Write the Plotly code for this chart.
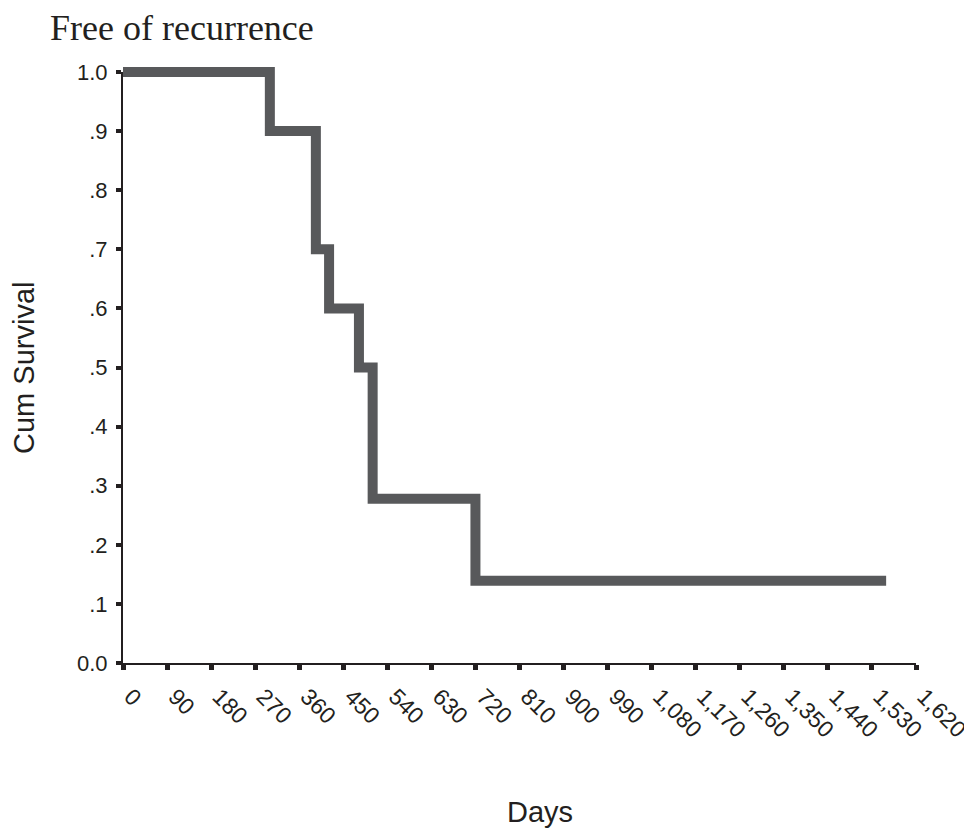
import plotly.graph_objects as go

# Kaplan-Meier step values
days = [0, 300, 394, 421, 482, 510, 720, 1559]
cum_survival = [1.0, 0.9, 0.7, 0.6, 0.5, 0.278, 0.139, 0.139]

x_ticks = list(range(0, 1621, 90))
x_tick_labels = [f"{v:,}" for v in x_ticks]
y_ticks = [0.0, 0.1, 0.2, 0.3, 0.4, 0.5, 0.6, 0.7, 0.8, 0.9, 1.0]
y_tick_labels = ["0.0", ".1", ".2", ".3", ".4", ".5", ".6", ".7", ".8", ".9", "1.0"]

OFF = 8  # page body margin
W, H = 972 - OFF, 829 - OFF
x0_px, x1_px = 123 - OFF, 915.7 - OFF     # x=0 and x=1620
y0_px, y1_px = 663 - OFF, 72 - OFF        # y=0 and y=1.0
mt = y1_px - 12
ml, mr, mb = x0_px, W - x1_px, H - y0_px
plot_h = H - mt - mb
plot_w = W - ml - mr
axis_top_frac = (y0_px - y1_px) / plot_h

ink = "#231f20"
fig = go.Figure()
fig.add_trace(go.Scatter(
    x=days, y=cum_survival, mode="lines", line_shape="hv",
    line=dict(color="#58595b", width=10),
    xaxis="x", yaxis="y2", hoverinfo="skip", showlegend=False,
))
# invisible trace so the visible axis subplot is drawn
fig.add_trace(go.Scatter(
    x=days[:1], y=cum_survival[:1], mode="markers", marker=dict(opacity=0),
    xaxis="x", yaxis="y", hoverinfo="skip", showlegend=False,
))

font_family = "Liberation Sans, Arial, sans-serif"
fig.update_layout(
    width=W, height=H,
    margin=dict(l=ml, r=mr, t=mt, b=mb, autoexpand=False),
    paper_bgcolor="white", plot_bgcolor="white",
    showlegend=False,
    xaxis=dict(
        range=[0, 1620], domain=[0, 1], anchor="y",
        tickmode="array", tickvals=x_ticks, ticktext=x_tick_labels,
        tickangle=45, ticks="outside", ticklen=5, tickwidth=5, tickcolor=ink,
        ticklabelshift=8, ticklabelstandoff=4,
        showline=True, linewidth=2, linecolor=ink,
        showgrid=False, zeroline=False,
        tickfont=dict(family=font_family, size=23, color=ink),
    ),
    yaxis=dict(
        range=[0, 1], domain=[0, axis_top_frac], anchor="x",
        tickmode="array", tickvals=y_ticks, ticktext=y_tick_labels,
        ticks="outside", ticklen=5, tickwidth=4, tickcolor=ink,
        ticklabelstandoff=4,
        showline=True, linewidth=2, linecolor=ink,
        showgrid=False, zeroline=False,
        tickfont=dict(family=font_family, size=22, color=ink),
    ),
    yaxis2=dict(
        range=[0, 1 / axis_top_frac], domain=[0, 1], anchor="x",
        visible=False, showgrid=False, zeroline=False,
    ),
)

def px_x(p):
    return (p - OFF - ml) / plot_w
def px_y(p):
    return (y0_px - (p - OFF)) / plot_h

fig.add_annotation(
    text="Free of recurrence", xref="paper", yref="paper",
    x=px_x(48), y=px_y(28), xanchor="left", yanchor="middle", showarrow=False,
    font=dict(family="Liberation Serif, Times New Roman, serif", size=36, color=ink),
)
fig.add_annotation(
    text="Cum Survival", xref="paper", yref="paper", textangle=-90,
    x=px_x(24), y=px_y(368), xanchor="center", yanchor="middle", showarrow=False,
    font=dict(family=font_family, size=29, color=ink),
)
fig.add_annotation(
    text="Days", xref="paper", yref="paper",
    x=px_x(540), y=px_y(812), xanchor="center", yanchor="middle", showarrow=False,
    font=dict(family=font_family, size=29, color=ink),
)

fig.write_html("out.html")
